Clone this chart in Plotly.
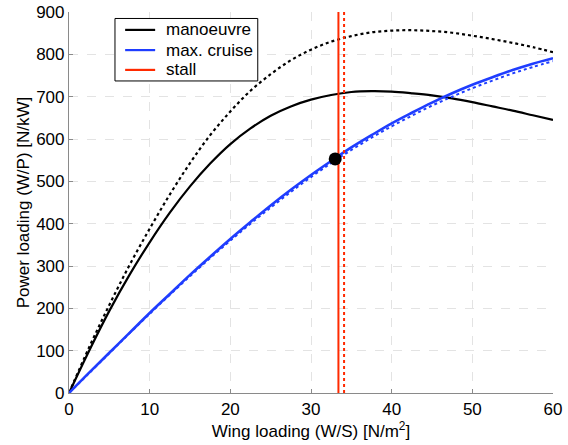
import plotly.graph_objects as go

wing_loading = [0, 2.5, 5, 7.5, 10, 12.5, 15, 17.5, 20, 22.5, 25, 27.5, 30, 32.5,
                35, 37.5, 40, 42.5, 45, 47.5, 50, 52.5, 55, 57.5, 60]
manoeuvre = [0, 100, 194, 279, 356, 426, 488, 542, 588, 625, 655, 677, 693, 704,
             711, 713, 712, 708, 703, 696, 687, 677, 667, 656, 645]
manoeuvre_alt = [0, 108, 208, 302, 388, 469, 543, 609, 665, 714, 753, 786, 811, 830,
                 843, 852, 856, 857, 855, 851, 844, 836, 827, 817, 805]
cruise = [0, 48, 95, 142, 189, 234, 279, 322, 364, 404, 443, 480, 515, 548,
          580, 609, 637, 662, 686, 708, 728, 746, 763, 778, 791]
cruise_alt = [0, 47, 94, 141, 187, 232, 276, 319, 360, 400, 438, 475, 510, 543,
              574, 603, 630, 655, 679, 700, 720, 738, 755, 770, 784]
stall_ws = 33.4
stall_ws_alt = 34.1
design_point = (33.0, 553)
legend_labels = ["manoeuvre", "max. cruise", "stall"]

BLACK = "#000000"
BLUE = "#1f3dff"
RED = "#ff2a00"
FONT = "Liberation Sans, Arial"

fig = go.Figure()
fig.add_trace(go.Scatter(x=wing_loading, y=manoeuvre_alt, mode="lines", line=dict(color=BLACK, width=2.2, dash="dot", shape="spline"), showlegend=False))
fig.add_trace(go.Scatter(x=wing_loading, y=manoeuvre, mode="lines", line=dict(color=BLACK, width=2.2, shape="spline"), showlegend=False))
fig.add_trace(go.Scatter(x=wing_loading, y=cruise_alt, mode="lines", line=dict(color=BLUE, width=2, dash="dot", shape="spline"), showlegend=False))
fig.add_trace(go.Scatter(x=wing_loading, y=cruise, mode="lines", line=dict(color=BLUE, width=2.6, shape="spline"), showlegend=False))
fig.add_trace(go.Scatter(x=[stall_ws, stall_ws], y=[0, 900], mode="lines", line=dict(color=RED, width=2), showlegend=False))
fig.add_trace(go.Scatter(x=[stall_ws_alt, stall_ws_alt], y=[0, 900], mode="lines", line=dict(color=RED, width=2, dash="dot"), showlegend=False))
fig.add_trace(go.Scatter(x=[design_point[0]], y=[design_point[1]], mode="markers", marker=dict(color=BLACK, size=13), showlegend=False))

axis_common = dict(
    showgrid=True, gridcolor="#e3e3e3", griddash="dash", gridwidth=1,
    zeroline=False, showline=True, linecolor="#8a8a8a", linewidth=1.2,
    ticks="inside", ticklen=4, tickcolor="#8a8a8a", automargin=False,
    tickfont=dict(family=FONT, size=17, color="black"),
)
fig.update_xaxes(range=[0, 60], dtick=10, title=dict(text="Wing loading (W/S) [N/m<sup>2</sup>]", font=dict(family=FONT, size=17, color="black"), standoff=7), **axis_common)
fig.update_yaxes(range=[0, 900], dtick=100, title=dict(text="Power loading (W/P) [N/kW]", font=dict(family=FONT, size=17, color="black"), standoff=2), **axis_common)

# compact legend box (MATLAB style)
shapes = [dict(type="rect", xref="paper", yref="paper", x0=0.095, x1=0.39, y0=0.819, y1=0.983,
               line=dict(color="black", width=1), fillcolor="white", layer="above")]
annotations = []
row_y = [0.953, 0.900, 0.848]
for label, color, yy in zip(legend_labels, [BLACK, BLUE, RED], row_y):
    shapes.append(dict(type="line", xref="paper", yref="paper", x0=0.116, x1=0.178, y0=yy, y1=yy,
                       line=dict(color=color, width=2.2), layer="above"))
    annotations.append(dict(xref="paper", yref="paper", x=0.196, y=yy, text=label, showarrow=False,
                            xanchor="left", yanchor="middle", font=dict(family=FONT, size=17, color="black")))

fig.update_layout(
    width=568, height=445,
    margin=dict(l=69, r=15, t=12, b=52),
    paper_bgcolor="white", plot_bgcolor="white",
    shapes=shapes, annotations=annotations,
    showlegend=False,
)
fig.write_html("out.html")
